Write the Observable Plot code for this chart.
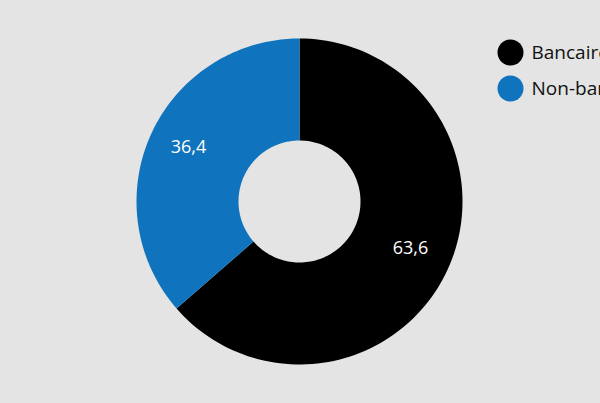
<!DOCTYPE html>
<html><head><meta charset="utf-8">
<script src="https://cdn.jsdelivr.net/npm/d3@7"></script>
<script src="https://cdn.jsdelivr.net/npm/@observablehq/plot@0.6"></script>
<style>
html,body{margin:0;padding:0;background:#e3e4e3;overflow:hidden;}
</style></head>
<body><div id="chart"></div>
<script>
const categories = ["Bancaire", "Non-bancaire"];
const values = [63.6, 36.4];
const labels = ["63,6", "36,4"];
const colors = ["#000000", "#1073bd"];

const cx = 299, cy = 201, rOuter = 163, rInner = 61, rLabel = 122;
const pie = d3.pie().sort(null).value(d => d.value);
const arcs = pie(categories.map((name, i) => ({name, value: values[i], label: labels[i]})));

const pts = [];
for (const a of arcs) {
  const n = 120;
  for (let k = 0; k <= n; k++) {
    const t = a.startAngle + (a.endAngle - a.startAngle) * k / n;
    pts.push({name: a.data.name, x: cx + rOuter * Math.sin(t), y: cy - rOuter * Math.cos(t)});
  }
  for (let k = n; k >= 0; k--) {
    const t = a.startAngle + (a.endAngle - a.startAngle) * k / n;
    pts.push({name: a.data.name, x: cx + rInner * Math.sin(t), y: cy - rInner * Math.cos(t)});
  }
}
const labelPts = arcs.map(a => {
  const m = (a.startAngle + a.endAngle) / 2;
  return {label: a.data.label, x: cx + rLabel * Math.sin(m), y: cy - rLabel * Math.cos(m)};
});
const legend = categories.map((name, i) => ({name, x: 510, y: 52 + i * 36}));

const chart = Plot.plot({
  width: 600, height: 403,
  margin: 0,
  x: {type: "identity", axis: null},
  y: {type: "identity", axis: null},
  color: {domain: categories, range: colors},
  style: {background: "#e3e4e3", fontFamily: "'Open Sans', sans-serif", overflow: "hidden"},
  marks: [
    Plot.line(pts, {x: "x", y: "y", z: "name", fill: "name", stroke: null, curve: "linear-closed"}),
    Plot.text(labelPts, {x: "x", y: "y", text: "label", fill: "white", fontSize: 18, textAnchor: "middle", lineAnchor: "bottom", dy: 2}),
    Plot.dot(legend, {x: "x", y: "y", r: 13, fill: "name", stroke: null}),
    Plot.text(legend, {x: d => d.x + 21, y: "y", text: "name", fill: "#111", fontSize: 19, textAnchor: "start"})
  ]
});
document.getElementById("chart").appendChild(chart);
</script></body></html>
